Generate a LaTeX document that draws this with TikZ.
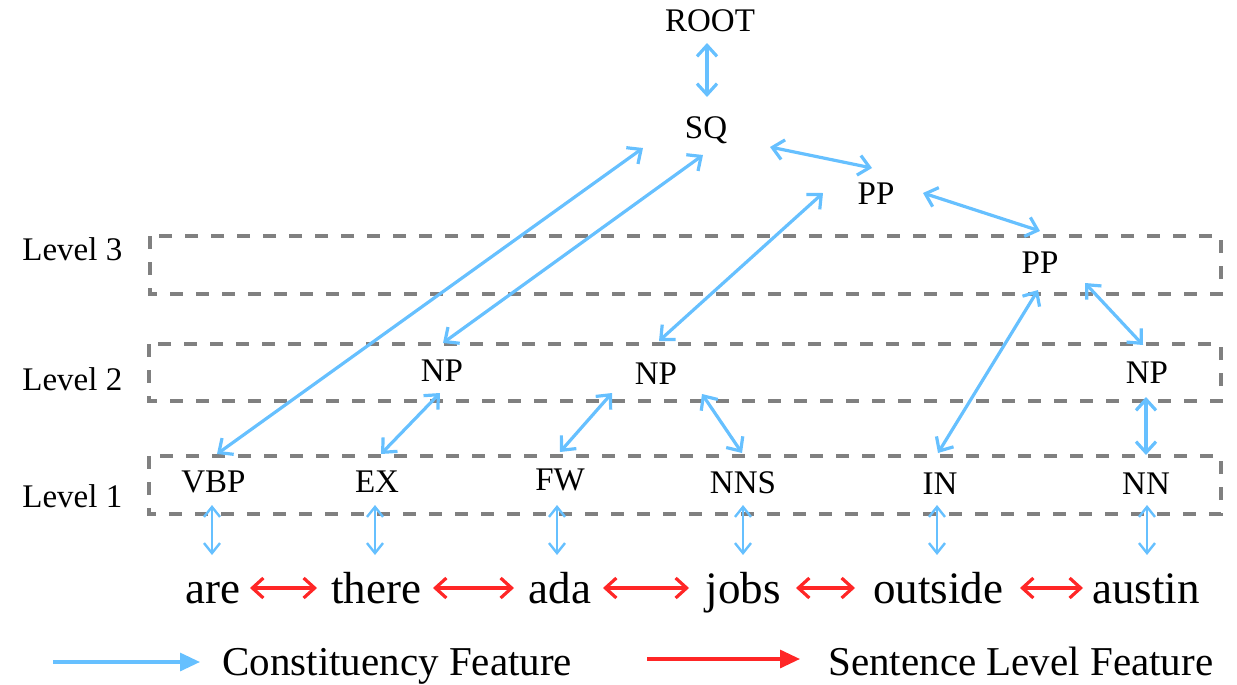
\documentclass[tikz,border=0pt]{standalone}
\usepackage{fontspec}
\setmainfont{Liberation Serif}
\usetikzlibrary{arrows.meta}
\definecolor{cfblue}{RGB}{102,192,255}
\definecolor{slred}{RGB}{255,38,38}
\definecolor{boxgray}{RGB}{128,128,128}
\begin{document}
\begin{tikzpicture}[x=0.5pt,y=-0.5pt,
  tag/.style={anchor=base,inner sep=0pt,font=\fontsize{16.5}{18}\selectfont},
  word/.style={anchor=base,inner sep=0pt,font=\fontsize{22.5}{24}\selectfont},
  levellabel/.style={anchor=base west,inner sep=0pt,font=\fontsize{16.5}{18}\selectfont},
  legendtext/.style={anchor=base west,inner sep=0pt,font=\fontsize{20.5}{22}\selectfont},
  levelbox/.style={draw=boxgray,line width=1.75pt,dash pattern=on 6.5pt off 6.5pt},
  cf/.style={draw=cfblue,line width=1.6pt,<->,>={Straight Barb[length=5.5pt,width=10pt]}},
  cfthin/.style={draw=cfblue,line width=1.2pt,<->,>={Straight Barb[length=5pt,width=8pt]}},
  sl/.style={draw=slred,line width=1.6pt,<->,>={Straight Barb[length=5.5pt,width=10pt]}},
  cflegend/.style={draw=cfblue,line width=1.6pt,-{Triangle[length=10pt,width=9pt]}},
  sllegend/.style={draw=slred,line width=1.6pt,-{Triangle[length=10pt,width=9pt]}},
]
\useasboundingbox (0,0) rectangle (1237,685);

% level frames
\draw[levelbox] (150,236) rectangle (1221,294);
\draw[levelbox] (149,344) rectangle (1221,401);
\draw[levelbox] (149,456) rectangle (1221,514);

% level labels
\node[levellabel] (lv3) at (22,260) {Level 3};
\node[levellabel] (lv2) at (22,390) {Level 2};
\node[levellabel] (lv1) at (22,507) {Level 1};

% constituency tree
\node[tag] (root) at (710,32) {ROOT};
\node[tag] (sq) at (706,138) {SQ};
\node[tag] (pp1) at (876,204) {PP};
\node[tag] (pp2) at (1040,273) {PP};
\node[tag] (npa) at (442,381) {NP};
\node[tag] (npb) at (656,384) {NP};
\node[tag] (npc) at (1147,383) {NP};
\node[tag] (vbp) at (213.5,492) {VBP};
\node[tag] (ex) at (377,492) {EX};
\node[tag] (fw) at (560,490) {FW};
\node[tag] (nns) at (743,493) {NNS};
\node[tag] (in) at (940,494) {IN};
\node[tag] (nn) at (1146,494) {NN};

% words of the sentence
\node[word] (are) at (213,603) {are};
\node[word] (there) at (376,603) {there};
\node[word] (ada) at (560,603) {ada};
\node[word] (jobs) at (743,603) {jobs};
\node[word] (outside) at (938,603) {outside};
\node[word] (austin) at (1146,603) {austin};

% tree edges
\draw[cf] ([shift={(-3,11)}]root.base) -- ([shift={(1,-41)}]sq.base);
\draw[cf] ([shift={(3.5,-38)}]vbp.base) -- ([shift={(-63,10)}]sq.base);
\draw[cf] ([shift={(1,-38)}]npa.base) -- ([shift={(-3,17)}]sq.base);
\draw[cf] ([shift={(64,9)}]sq.base) -- ([shift={(-4,-36)}]pp1.base);
\draw[cf] ([shift={(3,-43)}]npb.base) -- ([shift={(-53,-11)}]pp1.base);
\draw[cf] ([shift={(47,-11)}]pp1.base) -- ([shift={(0,-42)}]pp2.base);
\draw[cf] ([shift={(-2,-41)}]in.base) -- ([shift={(-2,17)}]pp2.base);
\draw[cf] ([shift={(45,10)}]pp2.base) -- ([shift={(-4,-38)}]npc.base);
\draw[cf] ([shift={(-1,14)}]npc.base) -- ([shift={(0,-39)}]nn.base);
\draw[cf] ([shift={(-2,12)}]npa.base) -- ([shift={(4,-38)}]ex.base);
\draw[cf] ([shift={(-44,9)}]npb.base) -- ([shift={(0,-38)}]fw.base);
\draw[cf] ([shift={(46,10)}]npb.base) -- ([shift={(-1,-40)}]nns.base);

% tags to words
\draw[cfthin] ([shift={(-1.5,13)}]vbp.base) -- ([shift={(-1,-48)}]are.base);
\draw[cfthin] ([shift={(-2,13)}]ex.base) -- ([shift={(-1,-48)}]there.base);
\draw[cfthin] ([shift={(-3,15)}]fw.base) -- ([shift={(-3,-48)}]ada.base);
\draw[cfthin] ([shift={(0,12)}]nns.base) -- ([shift={(0,-48)}]jobs.base);
\draw[cfthin] ([shift={(-3,11)}]in.base) -- ([shift={(-1,-48)}]outside.base);
\draw[cfthin] ([shift={(1,11)}]nn.base) -- ([shift={(1,-48)}]austin.base);

% sentence level links
\draw[sl] ([shift={(37,-15)}]are.base) -- ([shift={(-59,-15)}]there.base);
\draw[sl] ([shift={(57,-15)}]there.base) -- ([shift={(-46,-15)}]ada.base);
\draw[sl] ([shift={(43,-15)}]ada.base) -- ([shift={(-54,-15)}]jobs.base);
\draw[sl] ([shift={(53,-15)}]jobs.base) -- ([shift={(-83,-15)}]outside.base);
\draw[sl] ([shift={(82,-15)}]outside.base) -- ([shift={(-63,-15)}]austin.base);

% legend
\coordinate (cfstart) at (53,662);
\node[legendtext] (cfleg) at (222,675) {Constituency Feature};
\draw[cflegend] (cfstart) -- ([shift={(-22,-13)}]cfleg.base west);
\coordinate (slstart) at (647,659);
\node[legendtext] (slleg) at (828,675) {Sentence Level Feature};
\draw[sllegend] (slstart) -- ([shift={(-28,-16)}]slleg.base west);
\end{tikzpicture}
\end{document}
